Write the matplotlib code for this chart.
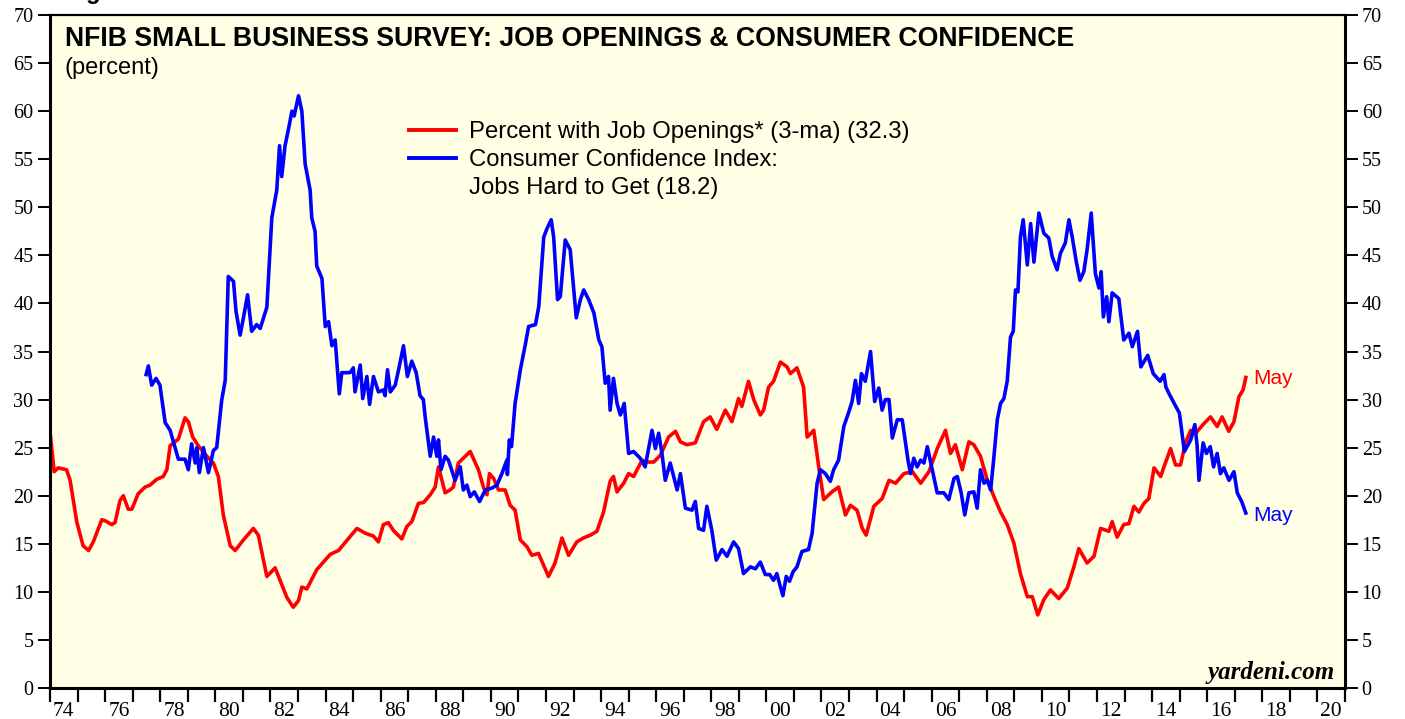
import matplotlib
matplotlib.use("Agg")
import matplotlib.pyplot as plt
from matplotlib.lines import Line2D


# --- data (decimal years, percent) ---
red_years = [1974.00, 1974.15, 1974.30, 1974.60, 1974.73, 1974.97, 1975.20, 1975.40, 1975.57, 1975.88,
             1976.00, 1976.24, 1976.36, 1976.54, 1976.66, 1976.84, 1976.97, 1977.20, 1977.45, 1977.63,
             1977.87, 1978.11, 1978.24, 1978.36, 1978.66, 1978.90, 1979.02, 1979.18, 1979.38, 1979.69,
             1979.93, 1980.11, 1980.29, 1980.54, 1980.72, 1981.02, 1981.38, 1981.56, 1981.87, 1982.17,
             1982.35, 1982.60, 1982.83, 1983.02, 1983.14, 1983.32, 1983.68, 1984.17, 1984.47, 1985.14,
             1985.44, 1985.74, 1985.92, 1986.10, 1986.28, 1986.46, 1986.77, 1986.95, 1987.13, 1987.37,
             1987.56, 1987.80, 1987.98, 1988.10, 1988.34, 1988.52, 1988.64, 1988.82, 1989.25, 1989.55,
             1989.73, 1989.86, 1989.95, 1990.10, 1990.28, 1990.52, 1990.70, 1990.88, 1991.07, 1991.31,
             1991.49, 1991.73, 1992.09, 1992.33, 1992.58, 1992.82, 1993.12, 1993.36, 1993.61, 1993.85,
             1994.09, 1994.33, 1994.45, 1994.58, 1994.82, 1995.00, 1995.18, 1995.49, 1995.67, 1995.91,
             1996.15, 1996.45, 1996.70, 1996.88, 1997.12, 1997.42, 1997.72, 1997.96, 1998.20, 1998.51,
             1998.75, 1998.99, 1999.11, 1999.35, 1999.54, 1999.78, 1999.90, 2000.08, 2000.26, 2000.51,
             2000.75, 2000.87, 2001.11, 2001.35, 2001.48, 2001.72, 2001.90, 2002.08, 2002.38, 2002.62,
             2002.87, 2003.05, 2003.29, 2003.48, 2003.62, 2003.90, 2004.20, 2004.45, 2004.69, 2004.99,
             2005.30, 2005.60, 2005.90, 2006.20, 2006.50, 2006.68, 2006.86, 2007.11, 2007.35, 2007.53,
             2007.77, 2008.02, 2008.26, 2008.50, 2008.74, 2008.98, 2009.22, 2009.47, 2009.65, 2009.85,
             2010.07, 2010.31, 2010.61, 2010.92, 2011.16, 2011.34, 2011.64, 2011.89, 2012.13, 2012.43,
             2012.55, 2012.73, 2012.97, 2013.16, 2013.34, 2013.52, 2013.70, 2013.88, 2014.07, 2014.31,
             2014.43, 2014.67, 2014.85, 2015.03, 2015.21, 2015.40, 2015.58, 2015.88, 2016.12, 2016.36,
             2016.54, 2016.78, 2016.97, 2017.15, 2017.30, 2017.40]
red_vals = [26.7, 22.5, 22.9, 22.7, 21.6, 17.3, 14.8, 14.3, 15.2, 17.5,
            17.4, 17.0, 17.2, 19.5, 20.0, 18.6, 18.6, 20.2, 20.9, 21.1,
            21.7, 22.0, 22.7, 25.2, 25.9, 28.1, 27.7, 26.1, 25.2, 24.1,
            23.4, 22.0, 18.0, 14.8, 14.3, 15.4, 16.6, 15.9, 11.6, 12.5,
            11.2, 9.4, 8.4, 9.1, 10.5, 10.3, 12.3, 13.9, 14.3, 16.6,
            16.1, 15.8, 15.2, 17.0, 17.2, 16.4, 15.5, 16.8, 17.3, 19.2,
            19.3, 20.1, 20.9, 23.0, 20.3, 20.6, 20.9, 23.4, 24.6, 22.7,
            20.9, 20.1, 22.3, 21.8, 20.6, 20.6, 19.0, 18.5, 15.4, 14.7,
            13.8, 14.0, 11.6, 13.0, 15.6, 13.8, 15.2, 15.6, 15.9, 16.3,
            18.3, 21.5, 22.0, 20.4, 21.3, 22.3, 22.0, 23.7, 23.5, 23.5,
            24.2, 26.1, 26.7, 25.6, 25.3, 25.5, 27.7, 28.2, 26.9, 28.9,
            27.7, 30.1, 29.3, 31.9, 30.0, 28.4, 28.9, 31.3, 31.9, 33.9,
            33.4, 32.7, 33.3, 31.3, 26.1, 26.8, 23.0, 19.6, 20.4, 20.9,
            18.0, 19.0, 18.5, 16.6, 15.9, 18.9, 19.7, 21.6, 21.3, 22.3,
            22.5, 21.3, 22.5, 24.9, 26.8, 24.4, 25.3, 22.7, 25.6, 25.3,
            24.1, 21.6, 19.9, 18.3, 17.0, 15.1, 11.9, 9.5, 9.5, 7.6,
            9.2, 10.2, 9.3, 10.4, 12.6, 14.5, 13.0, 13.7, 16.6, 16.3,
            17.3, 15.7, 17.0, 17.1, 18.9, 18.3, 19.2, 19.7, 22.9, 22.0,
            23.0, 24.9, 23.2, 23.2, 25.5, 26.8, 26.5, 27.5, 28.2, 27.2,
            28.2, 26.7, 27.7, 30.3, 31.0, 32.3]

blue_years = [1977.49, 1977.57, 1977.69, 1977.85, 1977.99, 1978.18, 1978.36, 1978.66, 1978.90, 1979.02,
              1979.14, 1979.27, 1979.33, 1979.42, 1979.57, 1979.75, 1979.93, 1980.05, 1980.23, 1980.36,
              1980.47, 1980.66, 1980.75, 1980.90, 1981.02, 1981.17, 1981.32, 1981.50, 1981.63, 1981.87,
              1982.05, 1982.23, 1982.33, 1982.41, 1982.53, 1982.66, 1982.78, 1982.86, 1983.02, 1983.14,
              1983.26, 1983.44, 1983.50, 1983.62, 1983.68, 1983.87, 1983.99, 1984.11, 1984.23, 1984.35,
              1984.50, 1984.59, 1984.89, 1985.01, 1985.07, 1985.26, 1985.35, 1985.50, 1985.60, 1985.74,
              1985.92, 1986.10, 1986.16, 1986.25, 1986.35, 1986.53, 1986.68, 1986.83, 1986.97, 1987.13,
              1987.29, 1987.43, 1987.55, 1987.62, 1987.80, 1987.92, 1988.04, 1988.10, 1988.19, 1988.34,
              1988.46, 1988.70, 1988.89, 1989.00, 1989.13, 1989.25, 1989.40, 1989.59, 1989.80, 1990.04,
              1990.22, 1990.40, 1990.58, 1990.60, 1990.67, 1990.75, 1990.88, 1991.07, 1991.25, 1991.37,
              1991.62, 1991.74, 1991.92, 1992.04, 1992.19, 1992.28, 1992.42, 1992.52, 1992.70, 1992.88,
              1993.10, 1993.25, 1993.37, 1993.55, 1993.74, 1993.92, 1994.03, 1994.15, 1994.27, 1994.33,
              1994.45, 1994.58, 1994.70, 1994.84, 1995.00, 1995.18, 1995.42, 1995.60, 1995.72, 1995.85,
              1995.97, 1996.09, 1996.21, 1996.33, 1996.51, 1996.76, 1996.88, 1997.06, 1997.30, 1997.42,
              1997.54, 1997.72, 1997.84, 1998.02, 1998.18, 1998.39, 1998.57, 1998.81, 1998.99, 1999.17,
              1999.42, 1999.60, 1999.78, 1999.96, 2000.12, 2000.26, 2000.38, 2000.51, 2000.60, 2000.72,
              2000.84, 2000.97, 2001.11, 2001.29, 2001.53, 2001.66, 2001.84, 2001.96, 2002.14, 2002.32,
              2002.44, 2002.62, 2002.81, 2002.99, 2003.11, 2003.23, 2003.35, 2003.45, 2003.59, 2003.78,
              2003.93, 2004.08, 2004.20, 2004.32, 2004.45, 2004.57, 2004.75, 2004.93, 2005.14, 2005.23,
              2005.35, 2005.47, 2005.60, 2005.72, 2005.84, 2006.02, 2006.20, 2006.44, 2006.62, 2006.81,
              2006.93, 2007.07, 2007.20, 2007.35, 2007.53, 2007.65, 2007.77, 2007.90, 2008.02, 2008.14,
              2008.26, 2008.38, 2008.50, 2008.62, 2008.74, 2008.86, 2008.96, 2009.04, 2009.13, 2009.22,
              2009.32, 2009.47, 2009.59, 2009.71, 2009.89, 2010.07, 2010.25, 2010.37, 2010.55, 2010.67,
              2010.85, 2010.98, 2011.10, 2011.25, 2011.38, 2011.52, 2011.64, 2011.79, 2011.94, 2012.07,
              2012.15, 2012.23, 2012.35, 2012.43, 2012.55, 2012.79, 2012.97, 2013.16, 2013.28, 2013.47,
              2013.59, 2013.84, 2014.04, 2014.29, 2014.43, 2014.50, 2014.60, 2014.80, 2014.99, 2015.17,
              2015.40, 2015.55, 2015.63, 2015.70, 2015.85, 2015.97, 2016.11, 2016.23, 2016.36, 2016.48,
              2016.60, 2016.79, 2016.97, 2017.09, 2017.25, 2017.40]
blue_vals = [32.6, 33.5, 31.5, 32.2, 31.5, 27.6, 26.8, 23.8, 23.8, 22.7,
             25.4, 23.4, 25.0, 22.4, 25.0, 22.4, 24.7, 25.0, 29.9, 32.0,
             42.8, 42.3, 39.2, 36.7, 38.5, 40.9, 37.1, 37.8, 37.4, 39.6,
             48.9, 51.8, 56.4, 53.2, 56.4, 58.2, 60.0, 59.5, 61.6, 60.0,
             54.5, 51.8, 48.9, 47.5, 43.9, 42.6, 37.6, 38.1, 35.6, 36.2,
             30.6, 32.8, 32.8, 33.3, 30.8, 33.6, 30.1, 32.4, 29.5, 32.4,
             30.8, 31.0, 30.4, 33.1, 30.8, 31.5, 33.5, 35.6, 32.4, 34.0,
             32.8, 30.4, 30.0, 28.1, 24.1, 26.1, 24.1, 25.8, 22.7, 24.1,
             23.7, 21.6, 23.0, 20.6, 21.1, 19.9, 20.4, 19.4, 20.6, 20.8,
             21.1, 22.3, 23.7, 22.2, 25.8, 25.1, 29.6, 33.1, 35.7, 37.6,
             37.8, 39.7, 46.9, 47.8, 48.7, 46.9, 40.4, 40.7, 46.6, 45.6,
             38.5, 40.4, 41.4, 40.4, 39.0, 36.2, 35.5, 31.7, 32.4, 28.9,
             32.2, 29.6, 28.4, 29.6, 24.4, 24.6, 23.9, 23.0, 24.8, 26.8,
             24.9, 26.5, 24.4, 21.6, 23.4, 20.6, 22.3, 18.7, 18.5, 19.4,
             16.6, 16.4, 18.9, 16.4, 13.3, 14.4, 13.7, 15.2, 14.5, 11.9,
             12.6, 12.4, 13.1, 11.8, 11.8, 11.2, 11.9, 10.5, 9.6, 11.6,
             11.1, 12.1, 12.6, 14.2, 14.4, 16.1, 21.3, 22.7, 22.3, 21.5,
             22.7, 23.7, 27.2, 28.7, 29.8, 32.0, 29.6, 32.7, 31.9, 35.0,
             29.8, 31.2, 28.9, 30.0, 30.0, 26.0, 27.9, 27.9, 23.7, 22.3,
             23.9, 23.0, 23.7, 23.4, 25.1, 22.7, 20.3, 20.3, 19.6, 21.8,
             22.0, 20.3, 18.0, 20.3, 20.4, 18.7, 22.7, 21.3, 21.6, 20.6,
             24.1, 27.9, 29.6, 30.1, 31.9, 36.5, 37.1, 41.4, 41.2, 46.9,
             48.7, 44.0, 48.3, 44.3, 49.4, 47.3, 46.8, 44.9, 43.5, 45.2,
             46.3, 48.7, 46.9, 44.3, 42.4, 43.3, 45.6, 49.4, 43.1, 41.6,
             43.3, 38.6, 40.7, 38.1, 41.1, 40.5, 36.2, 36.9, 35.5, 37.1,
             33.4, 34.6, 32.7, 31.9, 32.6, 31.3, 30.7, 29.6, 28.6, 24.6,
             25.8, 27.4, 25.3, 21.6, 25.5, 24.4, 25.1, 23.0, 24.4, 22.3,
             22.9, 21.6, 22.5, 20.3, 19.4, 18.2]

red_label = "Percent with Job Openings* (3-ma) (32.3)"
blue_label = "Consumer Confidence Index:"
blue_label2 = "Jobs Hard to Get (18.2)"

year_ticks = list(range(1974, 2022))
label_years = list(range(1974, 2021, 2))
y_ticks = list(range(0, 71, 5))

W, H = 1405, 719
sans = "Liberation Sans"
serif = "Liberation Serif"


def px(x, y):
    # figure pixel (from top-left) -> figure fraction
    return x / W, 1 - y / H


fig = plt.figure(figsize=(W / 100, H / 100), dpi=100)
ax = fig.add_axes([50 / W, (H - 688) / H, 1295 / W, 673 / H])
ax.set_facecolor("#FFFFE6")

ax.plot(red_years, red_vals, color="#FF0000", lw=2.6, label=red_label, solid_joinstyle="round")
ax.plot(blue_years, blue_vals, color="#0000FF", lw=2.6, label=blue_label, solid_joinstyle="round")

ax.set_xlim(1974, 2021)
ax.set_ylim(0, 70)

for s in ax.spines.values():
    s.set_linewidth(2.2)
ax.spines["top"].set_linewidth(1.6)

# y axis on both sides
ax.set_yticks(y_ticks)
ax.tick_params(axis="y", which="major", direction="out", length=9, width=1.4,
               left=True, right=True, labelleft=True, labelright=True, labelsize=14.5, pad=3)
for lab in ax.get_yticklabels():
    lab.set_fontfamily(serif)

# x axis: tick at every year boundary, labels centred in between
ax.set_xticks(year_ticks)
ax.set_xticklabels([])
ax.set_xticks([y + 0.5 for y in label_years], minor=True)
ax.set_xticklabels([f"{y % 100:02d}" for y in label_years], minor=True, fontfamily=serif, fontsize=15.5)
ax.tick_params(axis="x", which="major", direction="out", length=10, width=1.6)
ax.tick_params(axis="x", which="minor", length=0, pad=10)

# titles
fig.text(*px(65, 46), "NFIB SMALL BUSINESS SURVEY: JOB OPENINGS & CONSUMER CONFIDENCE",
         fontfamily=sans, fontweight="bold", fontsize=19.2, va="baseline", ha="left")
fig.text(*px(65, 74), "(percent)", fontfamily=sans, fontsize=17, va="baseline", ha="left")
# cut off figure caption at the very top
fig.text(*px(65, -0.5), "Figure 9.", fontfamily=sans, fontweight="bold", fontsize=17,
         va="baseline", ha="left")

# legend (third row has no handle)
handles = [Line2D([], [], color="#FF0000", lw=2.8),
           Line2D([], [], color="#0000FF", lw=2.8),
           Line2D([], [], color="none")]
fig.legend(handles, [red_label, blue_label, blue_label2], loc="upper left",
           bbox_to_anchor=px(409, 121), frameon=False, prop={"family": sans, "size": 17.2},
           handlelength=1.95, handletextpad=0.55, labelspacing=0.25, borderpad=0,
           borderaxespad=0)

# end labels
ax.annotate("May", (red_years[-1], red_vals[-1]), xytext=(5, -1), textcoords="offset points",
            color="#FF0000", fontfamily=sans, fontsize=15, va="center", ha="left")
ax.annotate("May", (blue_years[-1], blue_vals[-1]), xytext=(5, -2), textcoords="offset points",
            color="#0000FF", fontfamily=sans, fontsize=15, va="center", ha="left")

fig.text(*px(1335, 679), "yardeni.com", fontfamily=serif, fontweight="bold", fontstyle="italic",
         fontsize=18, va="baseline", ha="right")

fig.savefig("out.png", dpi=100)
plt.close(fig)
